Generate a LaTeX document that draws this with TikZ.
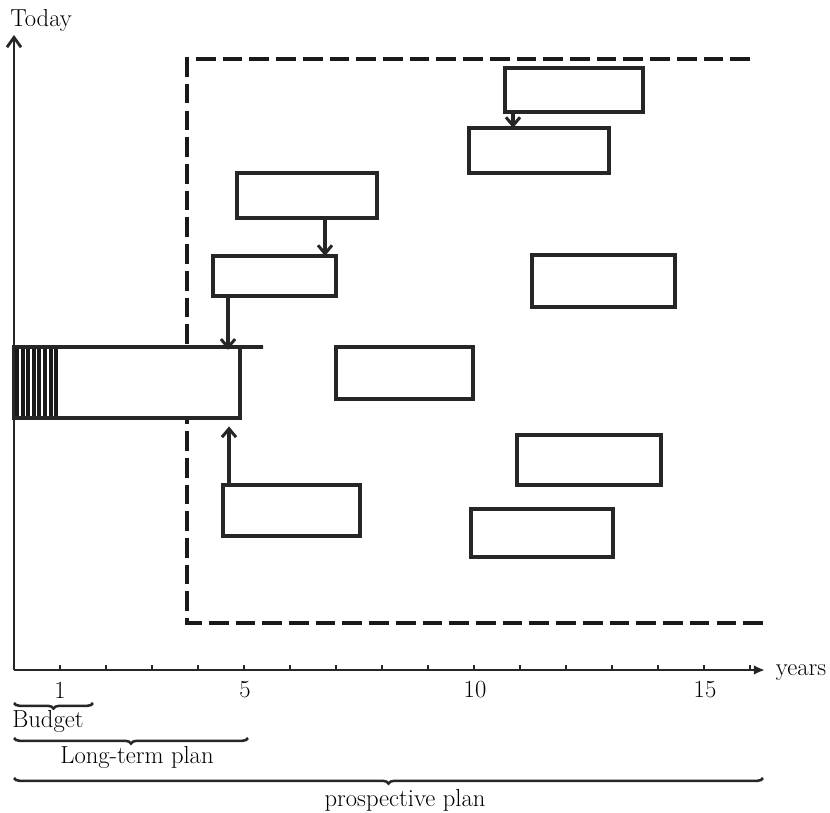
\documentclass[tikz,border=0pt]{standalone}
\usetikzlibrary{arrows.meta,decorations.pathreplacing,fit}
\begin{document}
\begin{tikzpicture}[x=0.025cm,y=-0.025cm,
  ink/.style={draw=black!85,line width=2.5pt},
  box/.style={ink,rectangle,inner sep=0pt,outer sep=0pt,fill=white},
  flow/.style={draw=black!85,line width=2.3pt,-{Straight Barb[length=6pt,width=10pt,line width=2.1pt]}},
  axis/.style={draw=black!85,line width=2.1pt},
  frame/.style={draw=black!90,line width=2.6pt,dash pattern=on 14pt off 5pt},
  span/.style={draw=black!85,line width=1.8pt,decorate,decoration={brace,mirror,amplitude=4pt}},
  lbl/.style={font=\fontsize{17.5}{21}\selectfont,inner sep=0pt}]
\useasboundingbox (0,0) rectangle (830,813);

% the dashed frame, open on the right
\draw[frame] (750,59) -- (187,59) -- (187,623) -- (765,623);

% axes
\coordinate (o) at (14,670);
\coordinate (ytop) at (14,35);
\coordinate (xend) at (765,670);
\draw[axis,-{Straight Barb[length=7pt,width=10pt,line width=2pt]}] (o) -- (ytop);
\draw[axis,-{Latex[length=8pt,width=7pt]}] (o) -- (xend);
\foreach \k in {1,...,16} \draw[axis,line width=1.4pt] (14+46*\k,670) -- ++(0,-5);
\node[lbl,anchor=west] (today) at (10,20) {Today};
\node[lbl] (years) at (801,673) {years};
\node[lbl] (t1) at (60,690) {1};
\node[lbl] (t5) at (245,690) {5};
\node[lbl] (t10) at (475,690) {10};
\node[lbl] (t15) at (705,690) {15};

% planning horizons
\draw[span] (14,703) -- (93,703);
\node[lbl,anchor=west] (budget) at (12,721) {Budget};
\draw[span] (14,738) -- (248,738);
\node[lbl] (ltp) at (137,757) {Long-term plan};
\draw[span] (14,778) -- (763,778);
\node[lbl] (pp) at (405,800) {prospective plan};

% current plan bar with its budget share hatched
\node[box,fit={(14,347) (240,418)}] (bar) {};
\coordinate (barend) at (263,347);
\draw[ink] (bar.north east) -- (barend);
\foreach \i in {0,...,7} \draw[black!90,line width=2.9pt] (17+5.6*\i,349) -- (17+5.6*\i,416);

% project boxes
\node[box,fit={(505,68) (643,112)}] (b1) {};
\node[box,fit={(469,128) (609,173)}] (b2) {};
\node[box,fit={(237,173) (377,218)}] (b3) {};
\node[box,fit={(213,256) (336,296)}] (b4) {};
\node[box,fit={(532,255) (675,307)}] (b5) {};
\node[box,fit={(336,347) (473,399)}] (b7) {};
\node[box,fit={(517,435) (661,485)}] (b8) {};
\node[box,fit={(223,485) (360,536)}] (b9) {};
\node[box,fit={(471,509) (613,557)}] (b10) {};

% dependencies
\coordinate (x1) at (513,0);
\coordinate (x3) at (325,0);
\coordinate (x4) at (228,0);
\coordinate (x9) at (229,0);
\draw[flow] (b1.south -| x1) -- (b2.north -| x1);
\draw[flow] (b3.south -| x3) -- (b4.north -| x3);
\draw[flow] (b4.south -| x4) -- ([yshift=-2pt]bar.north -| x4);
\draw[flow] (b9.north -| x9) -- ([yshift=-6pt]bar.south -| x9);
\end{tikzpicture}
\end{document}
